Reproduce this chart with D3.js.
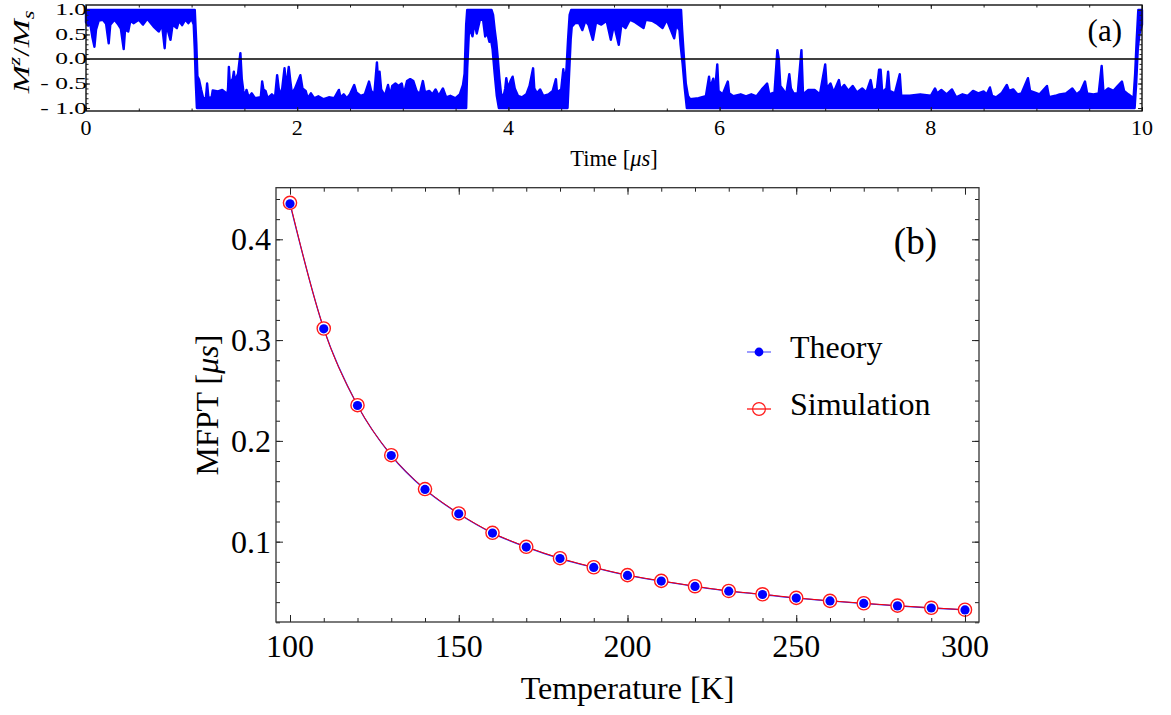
<!DOCTYPE html>
<html>
<head>
<meta charset="utf-8">
<script src="https://cdn.jsdelivr.net/npm/d3@7"></script>
<style>
  body { margin: 0; background: #fff; }
  svg text { font-family: "Liberation Serif", "Times New Roman", serif; fill: #000; }
</style>
</head>
<body>
<div id="chart"></div>
<script>
// ---- panel (b) data: mean first passage time vs temperature ----
const temperatures = [100, 110, 120, 130, 140, 150, 160, 170, 180, 190, 200, 210, 220, 230, 240, 250, 260, 270, 280, 290, 300];
const mfptTheory = [0.4352, 0.3112, 0.2351, 0.1855, 0.1518, 0.1277, 0.1085, 0.0946, 0.0833, 0.0744, 0.0665,
                    0.0609, 0.0556, 0.0509, 0.0476, 0.0440, 0.0412, 0.0387, 0.0363, 0.0342, 0.0323];
const mfptSimulation = [0.4362, 0.3115, 0.2354, 0.1858, 0.1522, 0.1280, 0.1088, 0.0949, 0.0836, 0.0746, 0.0668,
                        0.0611, 0.0558, 0.0511, 0.0478, 0.0442, 0.0413, 0.0389, 0.0365, 0.0344, 0.0325];
const tempTicks = [100, 150, 200, 250, 300];
const mfptTicks = [0.1, 0.2, 0.3, 0.4];
const seriesNames = ["Theory", "Simulation"];

// ---- panel (a) data: magnetisation trace, upper and lower edge of the band [time us, Mz/Ms] ----
const timeTicks = [0, 2, 4, 6, 8, 10];
const magTicks = [-1, -0.5, 0, 0.5, 1];
const magTickLabels = ["- 1.0", "- 0.5", "0.0", "0.5", "1.0"];

const traceUpper = [
  [0, 1.0], [1.03, 1.0], [1.045, 0.3], [1.055, -0.35], [1.07, -0.42], [1.09, -0.62], [1.11, -0.8],
  [1.135, -0.8], [1.147, -0.5], [1.16, -0.8], [1.19, -0.78], [1.2, -0.64], [1.25, -0.66], [1.29, -0.63],
  [1.32, -0.68], [1.335, -0.78], [1.345, -0.6], [1.353, -0.16], [1.362, -0.5], [1.39, -0.4], [1.40, -0.26],
  [1.41, -0.45], [1.44, -0.3], [1.462, 0.12], [1.475, -0.4], [1.49, -0.65], [1.5, -0.78], [1.52, -0.63],
  [1.54, -0.78], [1.57, -0.7], [1.6, -0.8], [1.655, -0.78], [1.668, -0.46], [1.68, -0.62], [1.70, -0.65],
  [1.72, -0.8], [1.76, -0.72], [1.79, -0.78], [1.81, -0.33], [1.825, -0.6], [1.85, -0.75], [1.88, -0.19],
  [1.895, -0.6], [1.92, -0.16], [1.935, -0.45], [1.95, -0.7], [1.98, -0.6], [2.03, -0.33], [2.05, -0.6],
  [2.08, -0.65], [2.1, -0.8], [2.13, -0.7], [2.16, -0.8], [2.2, -0.76], [2.25, -0.82], [2.3, -0.78],
  [2.35, -0.8], [2.395, -0.63], [2.41, -0.78], [2.44, -0.72], [2.47, -0.8], [2.5, -0.72], [2.54, -0.53],
  [2.56, -0.68], [2.6, -0.75], [2.64, -0.72], [2.68, -0.46], [2.7, -0.65], [2.73, -0.72], [2.755, -0.07],
  [2.765, -0.4], [2.78, -0.26], [2.795, -0.62], [2.83, -0.75], [2.86, -0.53], [2.88, -0.75], [2.9, -0.55],
  [2.93, -0.5], [2.96, -0.55], [2.99, -0.5], [3.01, -0.72], [3.04, -0.45], [3.07, -0.41], [3.1, -0.45],
  [3.13, -0.65], [3.16, -0.72], [3.19, -0.45], [3.21, -0.68], [3.25, -0.65], [3.28, -0.72], [3.31, -0.62],
  [3.34, -0.75], [3.38, -0.6], [3.41, -0.78], [3.45, -0.75], [3.5, -0.8], [3.54, -0.72], [3.57, -0.53],
  [3.585, -0.3], [3.6, 0.7], [3.61, 1.0], [3.84, 1.0], [3.855, 0.9], [3.87, 0.6], [3.885, 0.35], [3.9, 0.0],
  [3.915, -0.4], [3.93, -0.7], [3.95, -0.8], [3.97, -0.6], [3.98, -0.39], [3.995, -0.6], [4.02, -0.45],
  [4.04, -0.36], [4.06, -0.6], [4.09, -0.75], [4.13, -0.78], [4.17, -0.72], [4.2, -0.55], [4.234, -0.19],
  [4.245, -0.6], [4.27, -0.7], [4.3, -0.62], [4.33, -0.75], [4.38, -0.72], [4.42, -0.65], [4.45, -0.41],
  [4.46, -0.68], [4.5, -0.62], [4.52, -0.21], [4.535, -0.5], [4.55, -0.2], [4.565, 0.4], [4.58, 0.9],
  [4.595, 1.0], [5.635, 1.0], [5.645, 0.6], [5.66, 0.1], [5.68, -0.5], [5.7, -0.75], [5.72, -0.82],
  [5.8, -0.8], [5.87, -0.76], [5.90, -0.36], [5.91, -0.6], [5.94, -0.4], [5.955, -0.7], [5.978, -0.11],
  [5.99, -0.65], [6.03, -0.72], [6.078, -0.46], [6.09, -0.7], [6.13, -0.76], [6.2, -0.72], [6.25, -0.76],
  [6.3, -0.72], [6.35, -0.76], [6.4, -0.62], [6.45, -0.5], [6.47, -0.72], [6.52, -0.68], [6.547, 0.18],
  [6.56, 0.01], [6.575, -0.55], [6.6, -0.62], [6.63, -0.72], [6.66, -0.31], [6.675, -0.6], [6.7, -0.7],
  [6.74, -0.7], [6.775, 0.18], [6.79, -0.72], [6.84, -0.63], [6.9, -0.63], [6.95, -0.72], [7.0, -0.11],
  [7.015, -0.6], [7.05, -0.5], [7.08, -0.68], [7.13, -0.43], [7.145, -0.62], [7.18, -0.53], [7.22, -0.65],
  [7.26, -0.55], [7.3, -0.68], [7.35, -0.6], [7.39, -0.68], [7.43, -0.43], [7.45, -0.65], [7.49, -0.6],
  [7.51, -0.22], [7.525, -0.22], [7.54, -0.68], [7.58, -0.6], [7.596, -0.26], [7.61, -0.65], [7.66, -0.7],
  [7.706, -0.31], [7.72, -0.75], [7.8, -0.75], [7.9, -0.72], [8.0, -0.75], [8.04, -0.6], [8.06, -0.7],
  [8.1, -0.63], [8.15, -0.72], [8.2, -0.62], [8.24, -0.78], [8.3, -0.72], [8.35, -0.75], [8.4, -0.65],
  [8.45, -0.7], [8.5, -0.66], [8.53, -0.72], [8.56, -0.58], [8.58, -0.75], [8.62, -0.78], [8.67, -0.7],
  [8.72, -0.53], [8.74, -0.65], [8.78, -0.62], [8.82, -0.72], [8.86, -0.7], [8.92, -0.39], [8.94, -0.65],
  [8.98, -0.68], [9.03, -0.72], [9.1, -0.55], [9.12, -0.78], [9.18, -0.75], [9.22, -0.72], [9.28, -0.7],
  [9.34, -0.6], [9.38, -0.72], [9.42, -0.65], [9.46, -0.46], [9.48, -0.7], [9.54, -0.72], [9.59, -0.7],
  [9.618, -0.14], [9.635, -0.68], [9.68, -0.6], [9.73, -0.65], [9.77, -0.55], [9.81, -0.46], [9.83, -0.65],
  [9.87, -0.72], [9.92, -0.8], [9.935, -0.3], [9.95, 0.4], [9.965, 1.0], [10, 1.0]
];

const traceLower = [
  [0, 0.75], [0.02, 0.68], [0.04, 0.72], [0.06, 0.45], [0.08, 0.25], [0.095, 0.6], [0.12, 0.78], [0.16, 0.8],
  [0.19, 0.72], [0.215, 0.32], [0.23, 0.7], [0.27, 0.8], [0.3, 0.72], [0.33, 0.62], [0.357, 0.2], [0.37, 0.6],
  [0.4, 0.56], [0.42, 0.78], [0.45, 0.73], [0.5, 0.8], [0.54, 0.7], [0.58, 0.82], [0.64, 0.66], [0.69, 0.56],
  [0.72, 0.7], [0.745, 0.22], [0.76, 0.7], [0.8, 0.39], [0.82, 0.7], [0.86, 0.63], [0.88, 0.78], [0.91, 0.69],
  [0.94, 0.8], [0.97, 0.73], [1.0, 0.82], [1.02, 0.7], [1.03, 0.2], [1.04, -0.5], [1.05, -1.0],
  [3.6, -1.0], [3.61, -0.2], [3.625, 0.5], [3.64, 0.6], [3.66, 0.46], [3.68, 0.75], [3.7, 0.52], [3.73, 0.8],
  [3.76, 0.8], [3.78, 0.46], [3.8, 0.52], [3.82, 0.35], [3.835, 0.4], [3.85, 0.2], [3.87, -0.3], [3.89, -0.75],
  [3.91, -1.0], [4.56, -1.0], [4.575, -0.3], [4.59, 0.4], [4.6, 0.66], [4.63, 0.73], [4.67, 0.73], [4.7, 0.59],
  [4.73, 0.78], [4.76, 0.69], [4.8, 0.39], [4.83, 0.75], [4.88, 0.7], [4.93, 0.78], [4.97, 0.39], [5.0, 0.7],
  [5.045, 0.29], [5.07, 0.7], [5.11, 0.63], [5.15, 0.8], [5.2, 0.75], [5.28, 0.63], [5.3, 0.8], [5.36, 0.78],
  [5.4, 0.73], [5.46, 0.63], [5.5, 0.8], [5.57, 0.42], [5.59, 0.69], [5.62, 0.59], [5.63, 0.3], [5.65, -0.1],
  [5.67, -0.6], [5.69, -1.0], [9.93, -1.0], [9.945, -0.5], [9.96, 0.2], [9.975, 0.5], [10, 0.7]
];

const W = 1171, H = 715;
const svg = d3.select("#chart").append("svg")
    .attr("width", W)
    .attr("height", H);

// draws inward ticks on all four sides of a frame
function frameTicks(g, x, y, xMajor, xMinor, yMajor, yMinor, majLen, minLen) {
    let [x0, x1] = x.range();
    let [y0, y1] = y.range(); // y0 bottom, y1 top
    let sides = [
        { axis: d3.axisBottom, scale: x, at: `translate(0,${y0})` },
        { axis: d3.axisTop, scale: x, at: `translate(0,${y1})` },
        { axis: d3.axisLeft, scale: y, at: `translate(${x0},0)` },
        { axis: d3.axisRight, scale: y, at: `translate(${x1},0)` }
    ];
    sides.forEach(function(s, i) {
        let isX = i < 2;
        [[isX ? xMinor : yMinor, minLen], [isX ? xMajor : yMajor, majLen]].forEach(function(p) {
            let a = g.append("g")
                .attr("transform", s.at)
                .call(s.axis(s.scale).tickValues(p[0]).tickSize(-p[1]).tickFormat(""));
            a.select(".domain").remove();
            a.selectAll("line").attr("stroke", "#222").attr("stroke-width", 1);
            a.selectAll("text").remove();
        });
    });
}

// ================= panel (a) =================
let xa = d3.scaleLinear().domain([0, 10]).range([86, 1142]);
let ya = d3.scaleLinear().domain([-1.06, 1.1]).range([111, 5]);
let ga = svg.append("g");

let traceLine = d3.line()
    .x(function(d) { return xa(d[0]); })
    .y(function(d) { return ya(d[1]); });

let band = traceUpper.concat(traceLower.slice().reverse());
ga.append("path")
    .attr("d", traceLine(band) + "Z")
    .attr("fill", "#0000ff")
    .attr("stroke", "#0000ff")
    .attr("stroke-width", 2.4)
    .attr("stroke-linejoin", "round");

ga.append("line")
    .attr("x1", xa(0)).attr("x2", xa(10))
    .attr("y1", ya(0)).attr("y2", ya(0))
    .attr("stroke", "#000").attr("stroke-width", 1.4);

frameTicks(ga, xa, ya, timeTicks, d3.range(0, 10.01, 0.5), magTicks, d3.range(-1, 1.05, 0.1), 4, 2.5);

ga.append("rect")
    .attr("x", 86).attr("y", 5).attr("width", 1142 - 86).attr("height", 111 - 5)
    .attr("fill", "none").attr("stroke", "#111").attr("stroke-width", 1.4);

ga.selectAll(".xlab")
    .data(timeTicks)
    .enter()
    .append("text")
    .attr("x", function(d) { return xa(d); })
    .attr("y", 135)
    .attr("text-anchor", "middle")
    .style("font-size", "22px")
    .text(function(d) { return d; });

ga.selectAll(".ylab")
    .data(magTicks)
    .enter()
    .append("text")
    .attr("transform", function(d) { return `translate(87, ${ya(d) + 5.5}) scale(1.5,1)`; })
    .attr("text-anchor", "end")
    .style("font-size", "17px")
    .text(function(d, i) { return magTickLabels[i]; });

let timeTitle = ga.append("text")
    .attr("x", 614).attr("y", 166)
    .attr("text-anchor", "middle")
    .style("font-size", "22.5px");
timeTitle.append("tspan").text("Time [");
timeTitle.append("tspan").style("font-style", "italic").text("\u03bcs");
timeTitle.append("tspan").text("]");

let magTitle = ga.append("text")
    .attr("transform", "translate(29, 52) rotate(-90) scale(1.4,1)")
    .attr("text-anchor", "middle")
    .style("font-size", "24px")
    .style("font-style", "italic");
magTitle.append("tspan").text("M");
magTitle.append("tspan").attr("dy", -9).style("font-size", "16px").text("z");
magTitle.append("tspan").attr("dy", 9).style("font-style", "normal").text("/");
magTitle.append("tspan").text("M");
magTitle.append("tspan").attr("dy", 5).style("font-size", "16px").text("s");

ga.append("text")
    .attr("x", 1122).attr("y", 41)
    .attr("text-anchor", "end")
    .style("font-size", "31px")
    .text("(a)");

// ================= panel (b) =================
let xb = d3.scaleLinear().domain([95.85, 304.15]).range([276, 979]);
let yb = d3.scaleLinear().domain([0.0203, 0.4512]).range([622, 187.7]);
let gb = svg.append("g");

let mfptLine = d3.line()
    .curve(d3.curveMonotoneX)
    .x(function(d, i) { return xb(temperatures[i]); })
    .y(function(d) { return yb(d); });

gb.append("path")
    .datum(mfptTheory)
    .attr("fill", "none")
    .attr("stroke", "#2020ff")
    .attr("stroke-width", 1.3)
    .attr("d", mfptLine);

gb.append("path")
    .datum(mfptSimulation)
    .attr("fill", "none")
    .attr("stroke", "#ff0000")
    .attr("stroke-width", 1)
    .attr("d", mfptLine);

gb.selectAll(".sim")
    .data(mfptSimulation)
    .enter()
    .append("circle")
    .attr("cx", function(d, i) { return xb(temperatures[i]); })
    .attr("cy", function(d) { return yb(d); })
    .attr("r", 6.6)
    .attr("fill", "#fff")
    .attr("stroke", "#ff1a1a")
    .attr("stroke-width", 1.4);

gb.selectAll(".th")
    .data(mfptTheory)
    .enter()
    .append("circle")
    .attr("cx", function(d, i) { return xb(temperatures[i]); })
    .attr("cy", function(d) { return yb(d); })
    .attr("r", 4.6)
    .attr("fill", "#0000ff");

frameTicks(gb, xb, yb, tempTicks, d3.range(100, 301, 10), mfptTicks, d3.range(0.02, 0.45, 0.02), 7, 4);

gb.append("rect")
    .attr("x", 276).attr("y", 187.7).attr("width", 979 - 276).attr("height", 622 - 187.7)
    .attr("fill", "none").attr("stroke", "#333").attr("stroke-width", 1.3);

gb.selectAll(".xlab")
    .data(tempTicks)
    .enter()
    .append("text")
    .attr("x", function(d) { return xb(d); })
    .attr("y", 657)
    .attr("text-anchor", "middle")
    .style("font-size", "32px")
    .text(function(d) { return d; });

gb.selectAll(".ylab")
    .data(mfptTicks)
    .enter()
    .append("text")
    .attr("x", 271)
    .attr("y", function(d) { return yb(d) + 11; })
    .attr("text-anchor", "end")
    .style("font-size", "32px")
    .text(function(d) { return d.toFixed(1); });

gb.append("text")
    .attr("x", 627.5).attr("y", 699)
    .attr("text-anchor", "middle")
    .style("font-size", "32px")
    .text("Temperature [K]");

let mfptTitle = gb.append("text")
    .attr("transform", "translate(218, 405) rotate(-90)")
    .attr("text-anchor", "middle")
    .style("font-size", "32px");
mfptTitle.append("tspan").text("MFPT [");
mfptTitle.append("tspan").style("font-style", "italic").text("\u03bcs");
mfptTitle.append("tspan").text("]");

gb.append("text")
    .attr("x", 937).attr("y", 254)
    .attr("text-anchor", "end")
    .style("font-size", "37px")
    .text("(b)");

// legend
let legendY = [352, 409];
let legend = gb.selectAll(".legend")
    .data(seriesNames)
    .enter()
    .append("g")
    .attr("transform", function(d, i) { return `translate(759, ${legendY[i]})`; });

legend.append("line")
    .attr("x1", -12).attr("x2", 12)
    .attr("stroke", function(d, i) { return i === 0 ? "#5a5aff" : "#ff0000"; })
    .attr("stroke-width", 1.2);

legend.append("circle")
    .attr("r", function(d, i) { return i === 0 ? 4.4 : 6.4; })
    .attr("fill", function(d, i) { return i === 0 ? "#0000ff" : "none"; })
    .attr("stroke", function(d, i) { return i === 0 ? "none" : "#ff1a1a"; })
    .attr("stroke-width", 1.2);

legend.append("text")
    .attr("x", 31)
    .attr("y", 6)
    .style("font-size", "32px")
    .text(function(d) { return d; });
</script>
</body>
</html>
